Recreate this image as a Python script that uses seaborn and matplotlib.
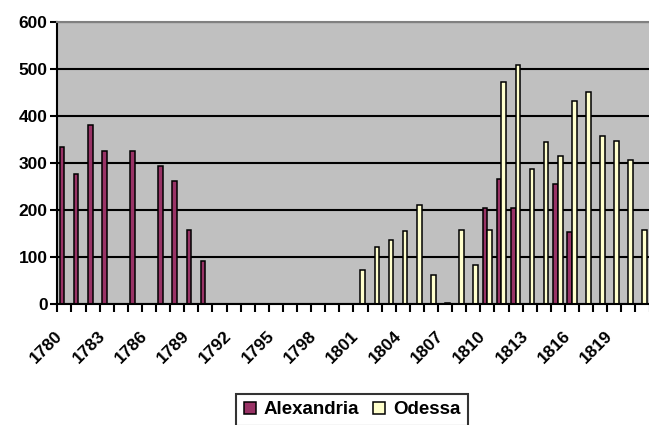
import numpy as np
import pandas as pd
import matplotlib
matplotlib.use("Agg")
import matplotlib.pyplot as plt
import matplotlib.transforms as mtransforms
from matplotlib.patches import Patch
import seaborn as sns

# Yearly values per port
years = list(range(1780, 1822))
alexandria_years = [1780, 1781, 1782, 1783, 1785, 1787, 1788, 1789, 1790,
                    1810, 1811, 1812, 1815, 1816]
alexandria_values = [333, 277, 380, 325, 326, 294, 261, 158, 91,
                     204, 266, 205, 256, 153]
odessa_years = [1801, 1802, 1803, 1804, 1805, 1806, 1807, 1808, 1809, 1810,
                1811, 1812, 1813, 1814, 1815, 1816, 1817, 1818, 1819, 1820, 1821]
odessa_values = [72, 121, 137, 155, 210, 62, 3, 158, 82, 158,
                 473, 509, 288, 344, 314, 431, 451, 357, 346, 306, 158]
series_names = ["Alexandria", "Odessa"]
series_colors = ["#993366", "#FFFFCC"]
y_ticks = [0, 100, 200, 300, 400, 500, 600]
tick_years = years[::3]

df = pd.concat([
    pd.DataFrame({"year": alexandria_years, "value": alexandria_values,
                  "series": series_names[0]}),
    pd.DataFrame({"year": odessa_years, "value": odessa_values,
                  "series": series_names[1]}),
], ignore_index=True)
df["year"] = df["year"].astype(str)
order = [str(y) for y in years]

plt.rcParams["font.family"] = ["Liberation Sans", "DejaVu Sans"]
plt.rcParams["font.weight"] = "bold"

W, H = 649, 425
fig = plt.figure(figsize=(W / 100, H / 100), dpi=100)
fig.patch.set_facecolor("white")
left, right, top, bottom = 57.3, 649.5, 22, 304
ax = fig.add_axes([left / W, 1 - bottom / H, (right - left) / W, (bottom - top) / H])

sns.barplot(data=df, x="year", y="value", hue="series", order=order,
            hue_order=series_names, palette=series_colors, saturation=1,
            width=2 / 3, gap=0, edgecolor="black", linewidth=1.1,
            errorbar=None, legend=False, ax=ax)

ax.set_facecolor("#C0C0C0")
ax.set_xlim(-0.5, len(years) - 0.5)
ax.set_ylim(0, 600)
ax.set_xlabel("")
ax.set_ylabel("")

# horizontal gridlines
ax.set_yticks(y_ticks)
ax.set_yticklabels([str(v) for v in y_ticks], fontsize=12.5, fontweight="bold")
ax.yaxis.grid(True, color="black", linewidth=1.5)
ax.set_axisbelow(True)
ax.tick_params(axis="y", direction="out", length=5, width=1.5, pad=2, colors="black")

# category axis: labels every third year, ticks on category boundaries
tick_pos = [order.index(str(y)) for y in tick_years]
ax.set_xticks(tick_pos)
ax.set_xticklabels([str(y) for y in tick_years], fontsize=12.5, fontweight="bold",
                   rotation=45, ha="right", va="center", rotation_mode="anchor")
ax.set_xticks(np.arange(-0.5, len(years), 1), minor=True)
ax.tick_params(axis="x", which="major", length=0, pad=21)
ax.tick_params(axis="x", which="minor", direction="out", length=6, width=1.5)
shift = mtransforms.ScaledTranslation(-4 / 100, 0, fig.dpi_scale_trans)
for lbl in ax.get_xticklabels():
    lbl.set_transform(lbl.get_transform() + shift)

for side in ("left", "bottom"):
    ax.spines[side].set_color("black")
    ax.spines[side].set_linewidth(1.5)
ax.spines["top"].set_color("#808080")
ax.spines["top"].set_linewidth(1.5)
ax.spines["right"].set_visible(False)

handles = [Patch(facecolor=c, edgecolor="black", linewidth=1.1, label=n)
           for n, c in zip(series_names, series_colors)]
leg = fig.legend(handles=handles, loc="upper left",
                 bbox_to_anchor=(236 / W, 1 - 394 / H), ncol=2,
                 frameon=True, fancybox=False, prop={"size": 13.5, "weight": "bold"},
                 handlelength=0.64, handleheight=0.64, handletextpad=0.41,
                 columnspacing=0.78, borderpad=0.4, borderaxespad=0)
leg.get_frame().set_edgecolor("black")
leg.get_frame().set_linewidth(1.5)

fig.savefig("out.png", dpi=100)
